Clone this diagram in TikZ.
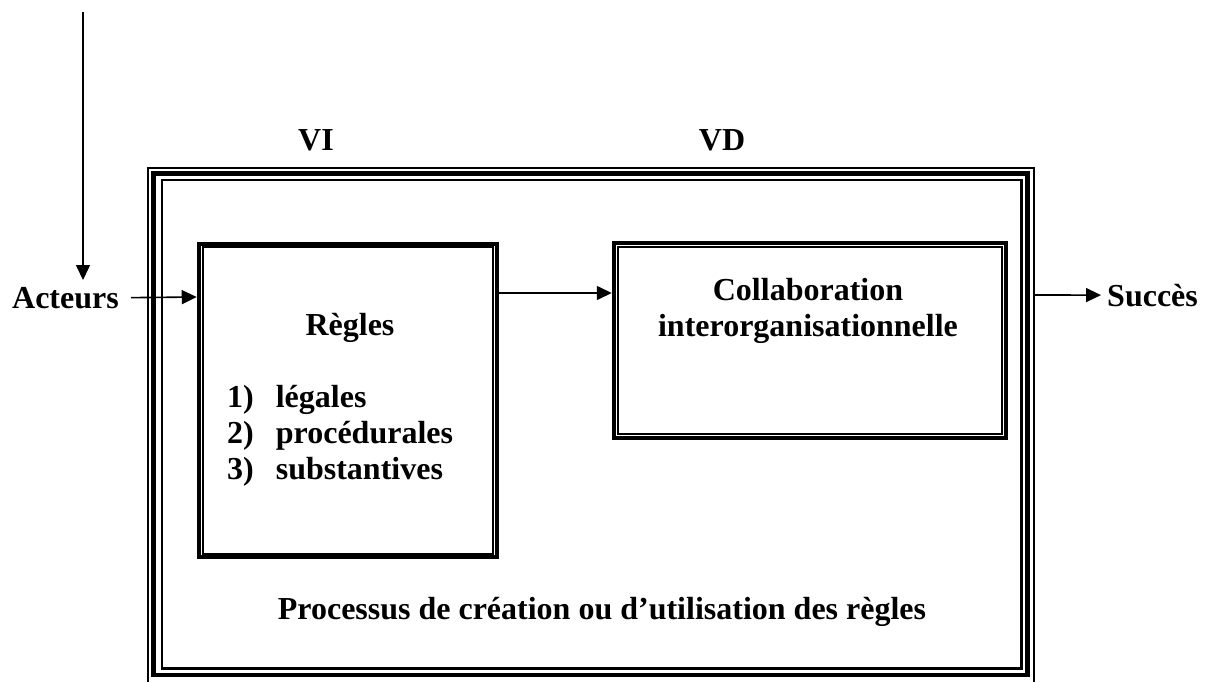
\documentclass[tikz,border=0pt]{standalone}
\usepackage{fontspec}
\setmainfont{Liberation Serif}
\usetikzlibrary{arrows.meta}
\tikzset{
  lbl/.style={font=\fontsize{32}{36}\selectfont\bfseries, inner sep=0pt},
  conn/.style={line width=1.6pt, -{Triangle[length=15pt,width=14pt]}},
  thickline/.style={line width=4.5pt},
  thinline/.style={line width=2.2pt},
}
\begin{document}
\begin{tikzpicture}[x=1pt,y=-1pt]
\useasboundingbox (0,0) rectangle (1216,681);
% outer frame (three lines)
\draw[thinline] (148,168) rectangle (1034,683);
\draw[thickline] (153.5,173.5) rectangle (1027.5,675);
\draw[thinline, line width=2.8pt] (162,180) rectangle (1021.5,668.5);
% rules box
\node[draw, thickline, minimum width=298pt, minimum height=313pt, inner sep=0pt] (regles) at (348,400.5) {};
\draw[thinline] ([shift={(6,5.5)}]regles.north west) rectangle ([shift={(-6,-5.5)}]regles.south east);
% collaboration box
\node[draw, thickline, minimum width=392pt, minimum height=195pt, inner sep=0pt] (collab) at (810,340.5) {};
\draw[thinline] ([shift={(6,6)}]collab.north west) rectangle ([shift={(-6,-6)}]collab.south east);
% labels
\node[lbl, anchor=base] (vi) at (316,150) {VI};
\node[lbl, anchor=base] (vd) at (722,150) {VD};
\node[lbl, anchor=base east] (acteurs) at (119,308) {Acteurs};
\node[lbl, anchor=base west] (succes) at (1107,306) {Succès};
\node[lbl, anchor=base] (titre) at (350,335) {Règles};
\node[lbl, anchor=base west] (liste) at (227,407) {%
  \begin{tabular}[t]{@{}l@{\hspace{22pt}}l@{}}
  1) & légales\\
  2) & procédurales\\
  3) & substantives
  \end{tabular}};
\node[lbl, align=center, anchor=base] (collabtxt) at (808,336) {Collaboration\\interorganisationnelle};
\node[lbl, anchor=base] (processus) at (602,619) {Processus de création ou d’utilisation des règles};
% connectors
\coordinate (topstart) at (83,12);
\coordinate (topend) at (83,280);
\draw[conn] (topstart) -- (topend);
\draw[conn] ([xshift=12pt]acteurs.east) -- (regles.west |- 0,297);
\draw[conn] (regles.east |- 0,293) -- (collab.west |- 0,293);
\coordinate (succstart) at (1034,295);
\draw[conn] (succstart) -- ([xshift=-6pt]succes.west);
\end{tikzpicture}
\end{document}
